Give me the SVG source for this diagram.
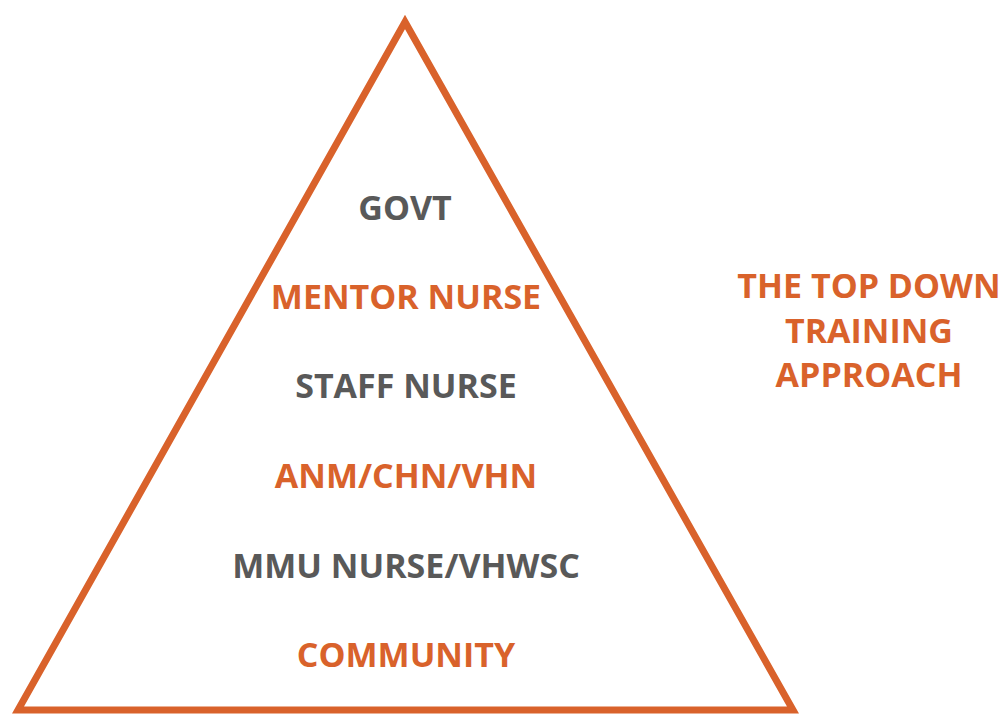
<svg xmlns="http://www.w3.org/2000/svg" width="1000" height="715" viewBox="0 0 1000 715">
<style>
text{font-family:"Open Sans","Liberation Sans",sans-serif;font-weight:bold;font-size:34px;text-anchor:middle}
.o{fill:#D9622B}
.g{fill:#595959}
</style>
<rect width="1000" height="715" fill="#fff"/>
<g id="pyramid">
<polygon points="405,22 18,710 793,710" fill="none" stroke="#D9622B" stroke-width="7" stroke-linejoin="miter" stroke-miterlimit="10"/>
</g>
<g id="govt"><text class="g" x="405" y="220">GOVT</text></g>
<g id="mentor"><text class="o" x="406" y="309">MENTOR NURSE</text></g>
<g id="staff"><text class="g" x="406" y="398">STAFF NURSE</text></g>
<g id="anm"><text class="o" x="406" y="488">ANM/CHN/VHN</text></g>
<g id="mmu"><text class="g" x="406" y="578">MMU NURSE/VHWSC</text></g>
<g id="community"><text class="o" x="406" y="667">COMMUNITY</text></g>
<g id="title">
<text class="o" x="869" y="298">THE TOP DOWN</text>
<text class="o" x="869" y="343">TRAINING</text>
<text class="o" x="869" y="387">APPROACH</text>
</g>
</svg>
